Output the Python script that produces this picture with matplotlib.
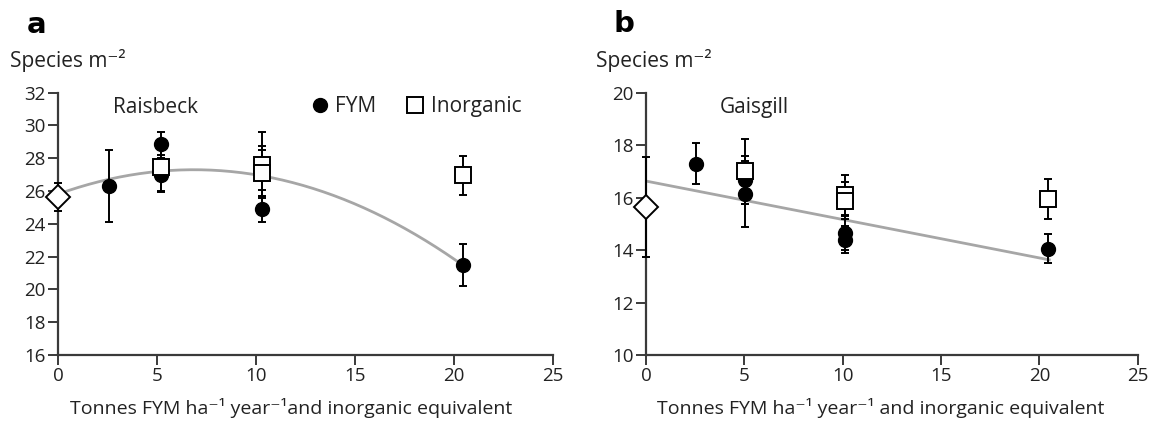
import numpy as np
import matplotlib.pyplot as plt

plt.rcParams['font.family'] = ['Open Sans', 'DejaVu Sans']

# panel a - Raisbeck
a_ctrl_y, a_ctrl_err = 25.65, 0.85
a_fym_x = [2.55, 5.2, 5.2, 10.3, 10.3, 20.45]
a_fym_y = [26.3, 28.9, 27.0, 27.4, 24.9, 21.5]
a_fym_err = [2.2, 0.7, 1.0, 1.35, 0.8, 1.3]
a_inorg_x = [5.2, 10.3, 10.3, 20.45]
a_inorg_y = [27.45, 27.6, 27.1, 26.95]
a_inorg_err = [1.5, 2.0, 1.4, 1.2]
a_fit = [25.81, 0.434, -0.0316]  # quadratic fit: c0, c1, c2

# panel b - Gaisgill
b_ctrl_y, b_ctrl_err = 15.65, 1.9
b_fym_x = [2.55, 5.05, 5.05, 10.1, 10.1, 20.45]
b_fym_y = [17.3, 16.67, 16.14, 14.65, 14.4, 14.05]
b_fym_err = [0.8, 0.9, 1.25, 0.65, 0.5, 0.55]
b_inorg_x = [5.05, 10.1, 10.1, 20.45]
b_inorg_y = [17.0, 16.1, 15.88, 15.95]
b_inorg_err = [1.25, 0.75, 0.7, 0.75]
b_fit = [16.63, -0.1465]  # linear fit: intercept, slope

xticks = [0, 5, 10, 15, 20, 25]

fig = plt.figure(figsize=(11.51, 4.23), dpi=100)
ax_a = fig.add_axes([0.0504, 0.1608, 0.4301, 0.6201])
ax_b = fig.add_axes([0.5613, 0.1608, 0.4272, 0.6201])

spine_col = '#3a3a3a'
txt_col = '#222222'
ebkw = dict(ecolor='black', elinewidth=1.4, capsize=3, capthick=1.4,
            linestyle='none', clip_on=False)


def panel(ax, ctrl_y, ctrl_err, fx, fy, fe, ix, iy, ie, yrange, fit,
          site, site_x):
    x_fit = np.linspace(0, 20.5, 200)
    y_fit = np.polyval(fit[::-1], x_fit)
    ax.plot(x_fit, y_fit, color='#a6a6a6', lw=2, zorder=1)
    ax.errorbar([0], [ctrl_y], yerr=[ctrl_err], fmt='D', ms=12,
                mfc='white', mec='black', mew=1.4, zorder=3, **ebkw)
    ax.errorbar(fx, fy, yerr=fe, fmt='o', ms=10, mfc='black', mec='black',
                zorder=4, **ebkw)
    ax.errorbar(ix, iy, yerr=ie, fmt='s', ms=11, mfc='white', mec='black',
                mew=1.4, zorder=5, **ebkw)
    ax.set_xlim(0, 25)
    ax.set_ylim(*yrange)
    ax.set_xticks(xticks)
    ax.set_yticks(np.arange(yrange[0], yrange[1] + 1, 2))
    for s in ['top', 'right']:
        ax.spines[s].set_visible(False)
    for s in ['left', 'bottom']:
        ax.spines[s].set_color(spine_col)
        ax.spines[s].set_linewidth(1.6)
    ax.tick_params(direction='out', length=7, width=1.4, color=spine_col,
                   labelsize=13.5, labelcolor=txt_col, pad=2)
    ax.text(site_x, 0.945, site, transform=ax.transAxes, fontsize=15,
            va='center', ha='left', color=txt_col)


panel(ax_a, a_ctrl_y, a_ctrl_err, a_fym_x, a_fym_y, a_fym_err,
      a_inorg_x, a_inorg_y, a_inorg_err, (16, 32), a_fit, 'Raisbeck', 0.111)
panel(ax_b, b_ctrl_y, b_ctrl_err, b_fym_x, b_fym_y, b_fym_err,
      b_inorg_x, b_inorg_y, b_inorg_err, (10, 20), b_fit, 'Gaisgill', 0.150)

# legend in panel a
h1, = ax_a.plot([], [], 'o', ms=10, color='black')
h2, = ax_a.plot([], [], 's', ms=11, mfc='white', mec='black', mew=1.4)
ax_a.legend([h1, h2], ['FYM', 'Inorganic'], ncol=2, frameon=False,
            loc='center left', bbox_to_anchor=(0.493, 0.948),
            handlelength=0.7, handletextpad=0.4, columnspacing=1.5,
            fontsize=15, borderpad=0, labelcolor=txt_col)

fig.text(0.023, 0.941, 'a', fontsize=21, fontweight='bold',
         family='DejaVu Sans', va='center')
fig.text(0.533, 0.944, 'b', fontsize=21, fontweight='bold',
         family='DejaVu Sans', va='center')
fig.text(0.009, 0.858, 'Species m\u207b\u00b2', fontsize=15, va='center',
         color=txt_col)
fig.text(0.518, 0.858, 'Species m\u207b\u00b2', fontsize=15, va='center',
         color=txt_col)
fig.text(0.2525, 0.035, 'Tonnes FYM ha\u207b\u00b9 year\u207b\u00b9and inorganic equivalent',
         fontsize=14, ha='center', va='center', color=txt_col)
fig.text(0.7655, 0.035, 'Tonnes FYM ha\u207b\u00b9 year\u207b\u00b9 and inorganic equivalent',
         fontsize=14, ha='center', va='center', color=txt_col)

fig.savefig('out.png', dpi=100)
